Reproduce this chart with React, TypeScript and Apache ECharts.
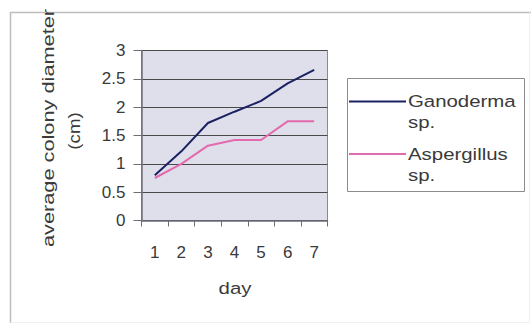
import React, { useEffect, useRef } from "react";
import * as echarts from "echarts";

// Growth of two fungal colonies over a week
const days = ["1", "2", "3", "4", "5", "6", "7"];
const seriesNames = ["Ganoderma sp.", "Aspergillus sp."];
const ganoderma = [0.8, 1.22, 1.72, 1.92, 2.11, 2.42, 2.66];
const aspergillus = [0.75, 1.0, 1.32, 1.42, 1.42, 1.75, 1.75];
const lineColors = ["#1b2163", "#e46aae"];
const yTitleLines = ["average colony diameter", "(cm)"];
const xTitle = "day";

const FONT = "'Liberation Sans', Arial, sans-serif";
const TEXT = "#3a3a3a";

export default function App() {
  const ref = useRef<HTMLDivElement>(null);

  useEffect(() => {
    if (!ref.current) return;
    const chart = echarts.init(ref.current, null, { renderer: "svg" });

    // legend drawn as a boxed key with names wrapped onto two lines
    const legendItems: any[] = [];
    seriesNames.forEach((name, i) => {
      const y0 = 101.5 + i * 52.5;
      const [first, ...rest] = name.split(" ");
      legendItems.push({
        type: "line",
        shape: { x1: 349, y1: y0, x2: 406, y2: y0 },
        style: { stroke: lineColors[i], lineWidth: 2 },
      });
      legendItems.push({
        type: "text",
        x: 408,
        y: y0,
        scaleX: 1.2,
        style: {
          text: first,
          fill: TEXT,
          font: `17px ${FONT}`,
          align: "left",
          verticalAlign: "middle",
        },
      });
      legendItems.push({
        type: "text",
        x: 408,
        y: y0 + 21,
        scaleX: 1.2,
        style: {
          text: rest.join(" "),
          fill: TEXT,
          font: `17px ${FONT}`,
          align: "left",
          verticalAlign: "middle",
        },
      });
    });

    chart.setOption({
      animation: false,
      backgroundColor: "#ffffff",
      grid: {
        left: 141.5,
        top: 50.5,
        right: 204.5,
        bottom: 103.5,
        show: true,
        backgroundColor: "#dfdfeb",
        borderColor: "#8a8a8a",
        borderWidth: 1,
      },
      xAxis: {
        type: "category",
        data: days,
        boundaryGap: true,
        axisLine: { lineStyle: { color: "#6e6e7a", width: 1.5 } },
        axisTick: { show: true, length: 6, inside: false, lineStyle: { color: "#6e6e7a" } },
        axisLabel: { color: TEXT, fontSize: 17, fontFamily: FONT, margin: 23 },
        splitLine: { show: false },
      },
      yAxis: {
        type: "value",
        min: 0,
        max: 3,
        interval: 0.5,
        axisLine: { show: true, lineStyle: { color: "#6e6e7a", width: 1.5 } },
        axisTick: { show: true, length: 8, lineStyle: { color: "#6e6e7a" } },
        axisLabel: { color: TEXT, fontSize: 17, fontFamily: FONT, margin: 16 },
        splitLine: { show: true, lineStyle: { color: "#4a4a4a", width: 1 } },
      },
      series: [
        {
          name: seriesNames[0],
          type: "line",
          data: ganoderma,
          symbol: "none",
          lineStyle: { color: lineColors[0], width: 2 },
        },
        {
          name: seriesNames[1],
          type: "line",
          data: aspergillus,
          symbol: "none",
          lineStyle: { color: lineColors[1], width: 2 },
        },
      ],
      graphic: [
        // outer chart frame
        {
          type: "polyline",
          shape: { points: [[10.5, 323], [10.5, 12.5], [531, 12.5]] },
          style: { stroke: "#bdbdbd", lineWidth: 1.5, fill: "none" },
        },
        {
          type: "polyline",
          shape: { points: [[529.5, 12.5], [529.5, 322.5], [10.5, 322.5]] },
          style: { stroke: "#f0f0f0", lineWidth: 1, fill: "none" },
        },
        // axis titles
        {
          type: "text",
          x: 48,
          y: 128,
          rotation: Math.PI / 2,
          scaleX: 1.28,
          style: {
            text: yTitleLines[0],
            fill: TEXT,
            font: `17px ${FONT}`,
            align: "center",
            verticalAlign: "middle",
          },
        },
        {
          type: "text",
          x: 74,
          y: 131,
          rotation: Math.PI / 2,
          scaleX: 1.1,
          style: {
            text: yTitleLines[1],
            fill: TEXT,
            font: `17px ${FONT}`,
            align: "center",
            verticalAlign: "middle",
          },
        },
        {
          type: "text",
          x: 235,
          y: 288,
          scaleX: 1.2,
          style: {
            text: xTitle,
            fill: TEXT,
            font: `17px ${FONT}`,
            align: "center",
            verticalAlign: "middle",
          },
        },
        // legend box
        {
          type: "rect",
          shape: { x: 347.5, y: 78.5, width: 177, height: 113 },
          style: { stroke: "#8c8c8c", lineWidth: 1, fill: "#ffffff" },
        },
        ...legendItems,
      ],
    });

    return () => chart.dispose();
  }, []);

  return (
    <div
      ref={ref}
      style={{ position: "fixed", left: 0, top: 0, width: 532, height: 324 }}
    />
  );
}
